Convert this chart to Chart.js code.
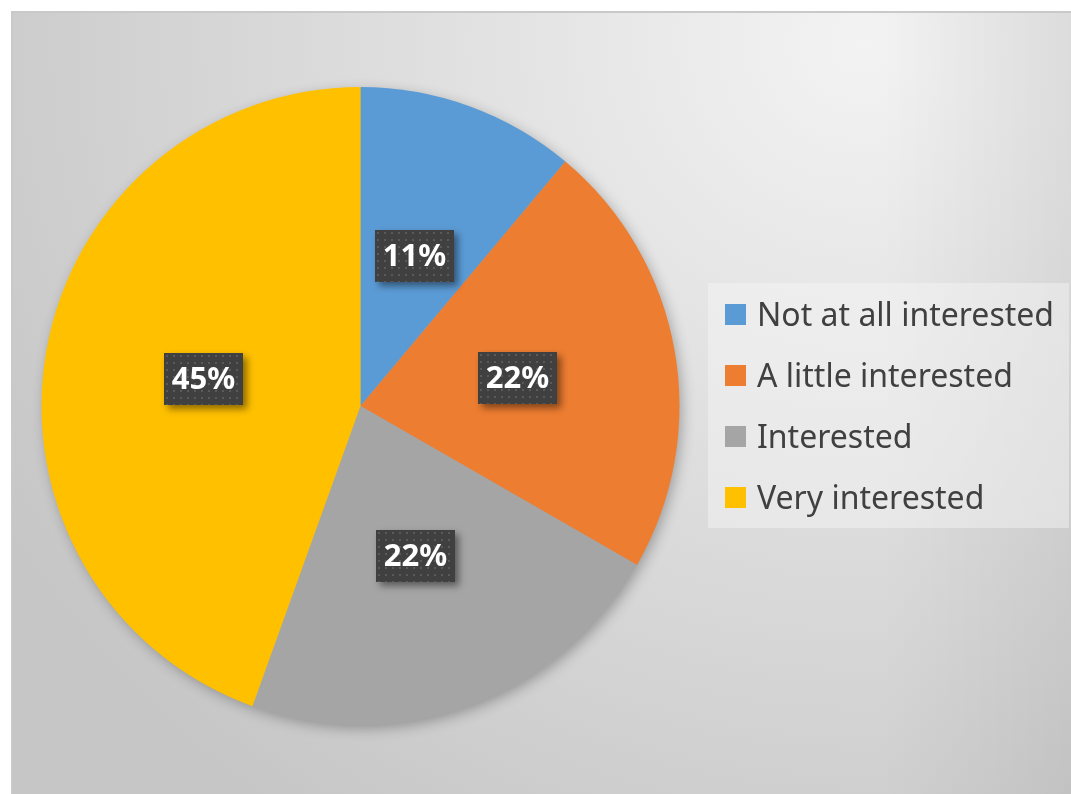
<!DOCTYPE html>
<html>
<head>
<meta charset="utf-8">
<script src="https://cdn.jsdelivr.net/npm/chart.js@4/dist/chart.umd.min.js"></script>
<style>
  html, body { margin: 0; padding: 0; background: #fff; overflow: hidden; }
  .chart-area {
    position: absolute; left: 11px; top: 11px; width: 1060px; height: 783px;
    border-top: 2px solid #c9c9c9; border-left: 2px solid #c9c9c9;
    box-sizing: border-box;
    background:
      linear-gradient(to right, rgba(0,0,0,0) 82%, rgba(0,0,0,0.06) 100%),
      radial-gradient(ellipse 1000px 950px at 850px 30px, #f3f3f3 0%, #c6c6c6 100%);
  }
  #myChart { position: absolute; left: 11px; top: 11px; }
  .legend {
    position: absolute; left: 708px; top: 283px; width: 361px; height: 245px;
    background: rgba(246,246,246,0.45);
    font-family: "Noto Sans", sans-serif; font-size: 32px; color: #404040;
  }
  .legend-item { position: absolute; left: 17px; height: 21px; }
  .legend-item .swatch { position: absolute; left: 0; top: 0; width: 21px; height: 21px; }
  .legend-item .text { position: absolute; left: 32px; top: -10px; white-space: nowrap; line-height: 40px; }
</style>
</head>
<body>
<div class="chart-area"></div>
<canvas id="myChart" width="1060" height="783"></canvas>
<div class="legend" id="legend"></div>
<script>
const categories = ["Not at all interested", "A little interested", "Interested", "Very interested"];
const percentValues = [11.1, 22.2, 22.2, 44.5];
const sliceColors = ["#5b9bd5", "#ed7d31", "#a5a5a5", "#ffc000"];

// dotted dark fill for the data label boxes
const makeDotPattern = (ctx) => {
  const p = document.createElement("canvas");
  p.width = 7;
  p.height = 7;
  const pc = p.getContext("2d");
  pc.fillStyle = "#404040";
  pc.fillRect(0, 0, 7, 7);
  pc.fillStyle = "#5a5a5a";
  pc.fillRect(2, 2, 2, 2);
  return ctx.createPattern(p, "repeat");
};

const pieShadow = {
  id: "pieShadow",
  beforeDatasetsDraw(chart) {
    const arc = chart.getDatasetMeta(0).data[0];
    if (!arc) return;
    const ctx = chart.ctx;
    ctx.save();
    ctx.shadowColor = "rgba(0,0,0,0.3)";
    ctx.shadowBlur = 14;
    ctx.shadowOffsetX = 3;
    ctx.shadowOffsetY = 4;
    ctx.fillStyle = "#a5a5a5";
    ctx.beginPath();
    ctx.arc(arc.x, arc.y, arc.outerRadius - 1, 0, Math.PI * 2);
    ctx.fill();
    ctx.restore();
  },
};

const boxLabels = {
  id: "boxLabels",
  afterDatasetsDraw(chart) {
    const ctx = chart.ctx;
    const pattern = makeDotPattern(ctx);
    const meta = chart.getDatasetMeta(0);
    meta.data.forEach((arc, i) => {
      const pos = arc.tooltipPosition();
      const w = 79, h = 52;
      const x = Math.round(pos.x - w / 2), y = Math.round(pos.y - h / 2);
      ctx.save();
      ctx.shadowColor = "rgba(0,0,0,0.45)";
      ctx.shadowBlur = 7;
      ctx.shadowOffsetX = 4;
      ctx.shadowOffsetY = 4;
      ctx.fillStyle = "#404040";
      ctx.fillRect(x, y, w, h);
      ctx.restore();
      ctx.save();
      ctx.fillStyle = pattern;
      ctx.translate(x, y);
      ctx.fillRect(0, 0, w, h);
      ctx.restore();
      ctx.save();
      ctx.fillStyle = "#ffffff";
      ctx.font = "bold 31px 'Noto Sans'";
      ctx.textAlign = "center";
      ctx.textBaseline = "middle";
      ctx.fillText(Math.round(percentValues[i]) + "%", x + w / 2, y + h / 2 + 1);
      ctx.restore();
    });
  },
};

const ctx = document.getElementById("myChart").getContext("2d");
const myChart = new Chart(ctx, {
  type: "pie",
  data: {
    labels: categories,
    datasets: [
      {
        data: percentValues,
        backgroundColor: sliceColors,
        borderWidth: 0,
      },
    ],
  },
  options: {
    responsive: false,
    animation: false,
    layout: { padding: { left: 30, right: 391, top: 76, bottom: 69 } },
    plugins: {
      legend: { display: false },
      tooltip: { enabled: false },
    },
  },
  plugins: [pieShadow, boxLabels],
});

// legend built from the same arrays
const legendEl = document.getElementById("legend");
categories.forEach((name, i) => {
  const item = document.createElement("div");
  item.className = "legend-item";
  item.style.top = (21 + i * 61) + "px";
  item.innerHTML = '<div class="swatch" style="background:' + sliceColors[i] + '"></div>' +
    '<div class="text">' + name + "</div>";
  legendEl.appendChild(item);
});
</script>
</body>
</html>
